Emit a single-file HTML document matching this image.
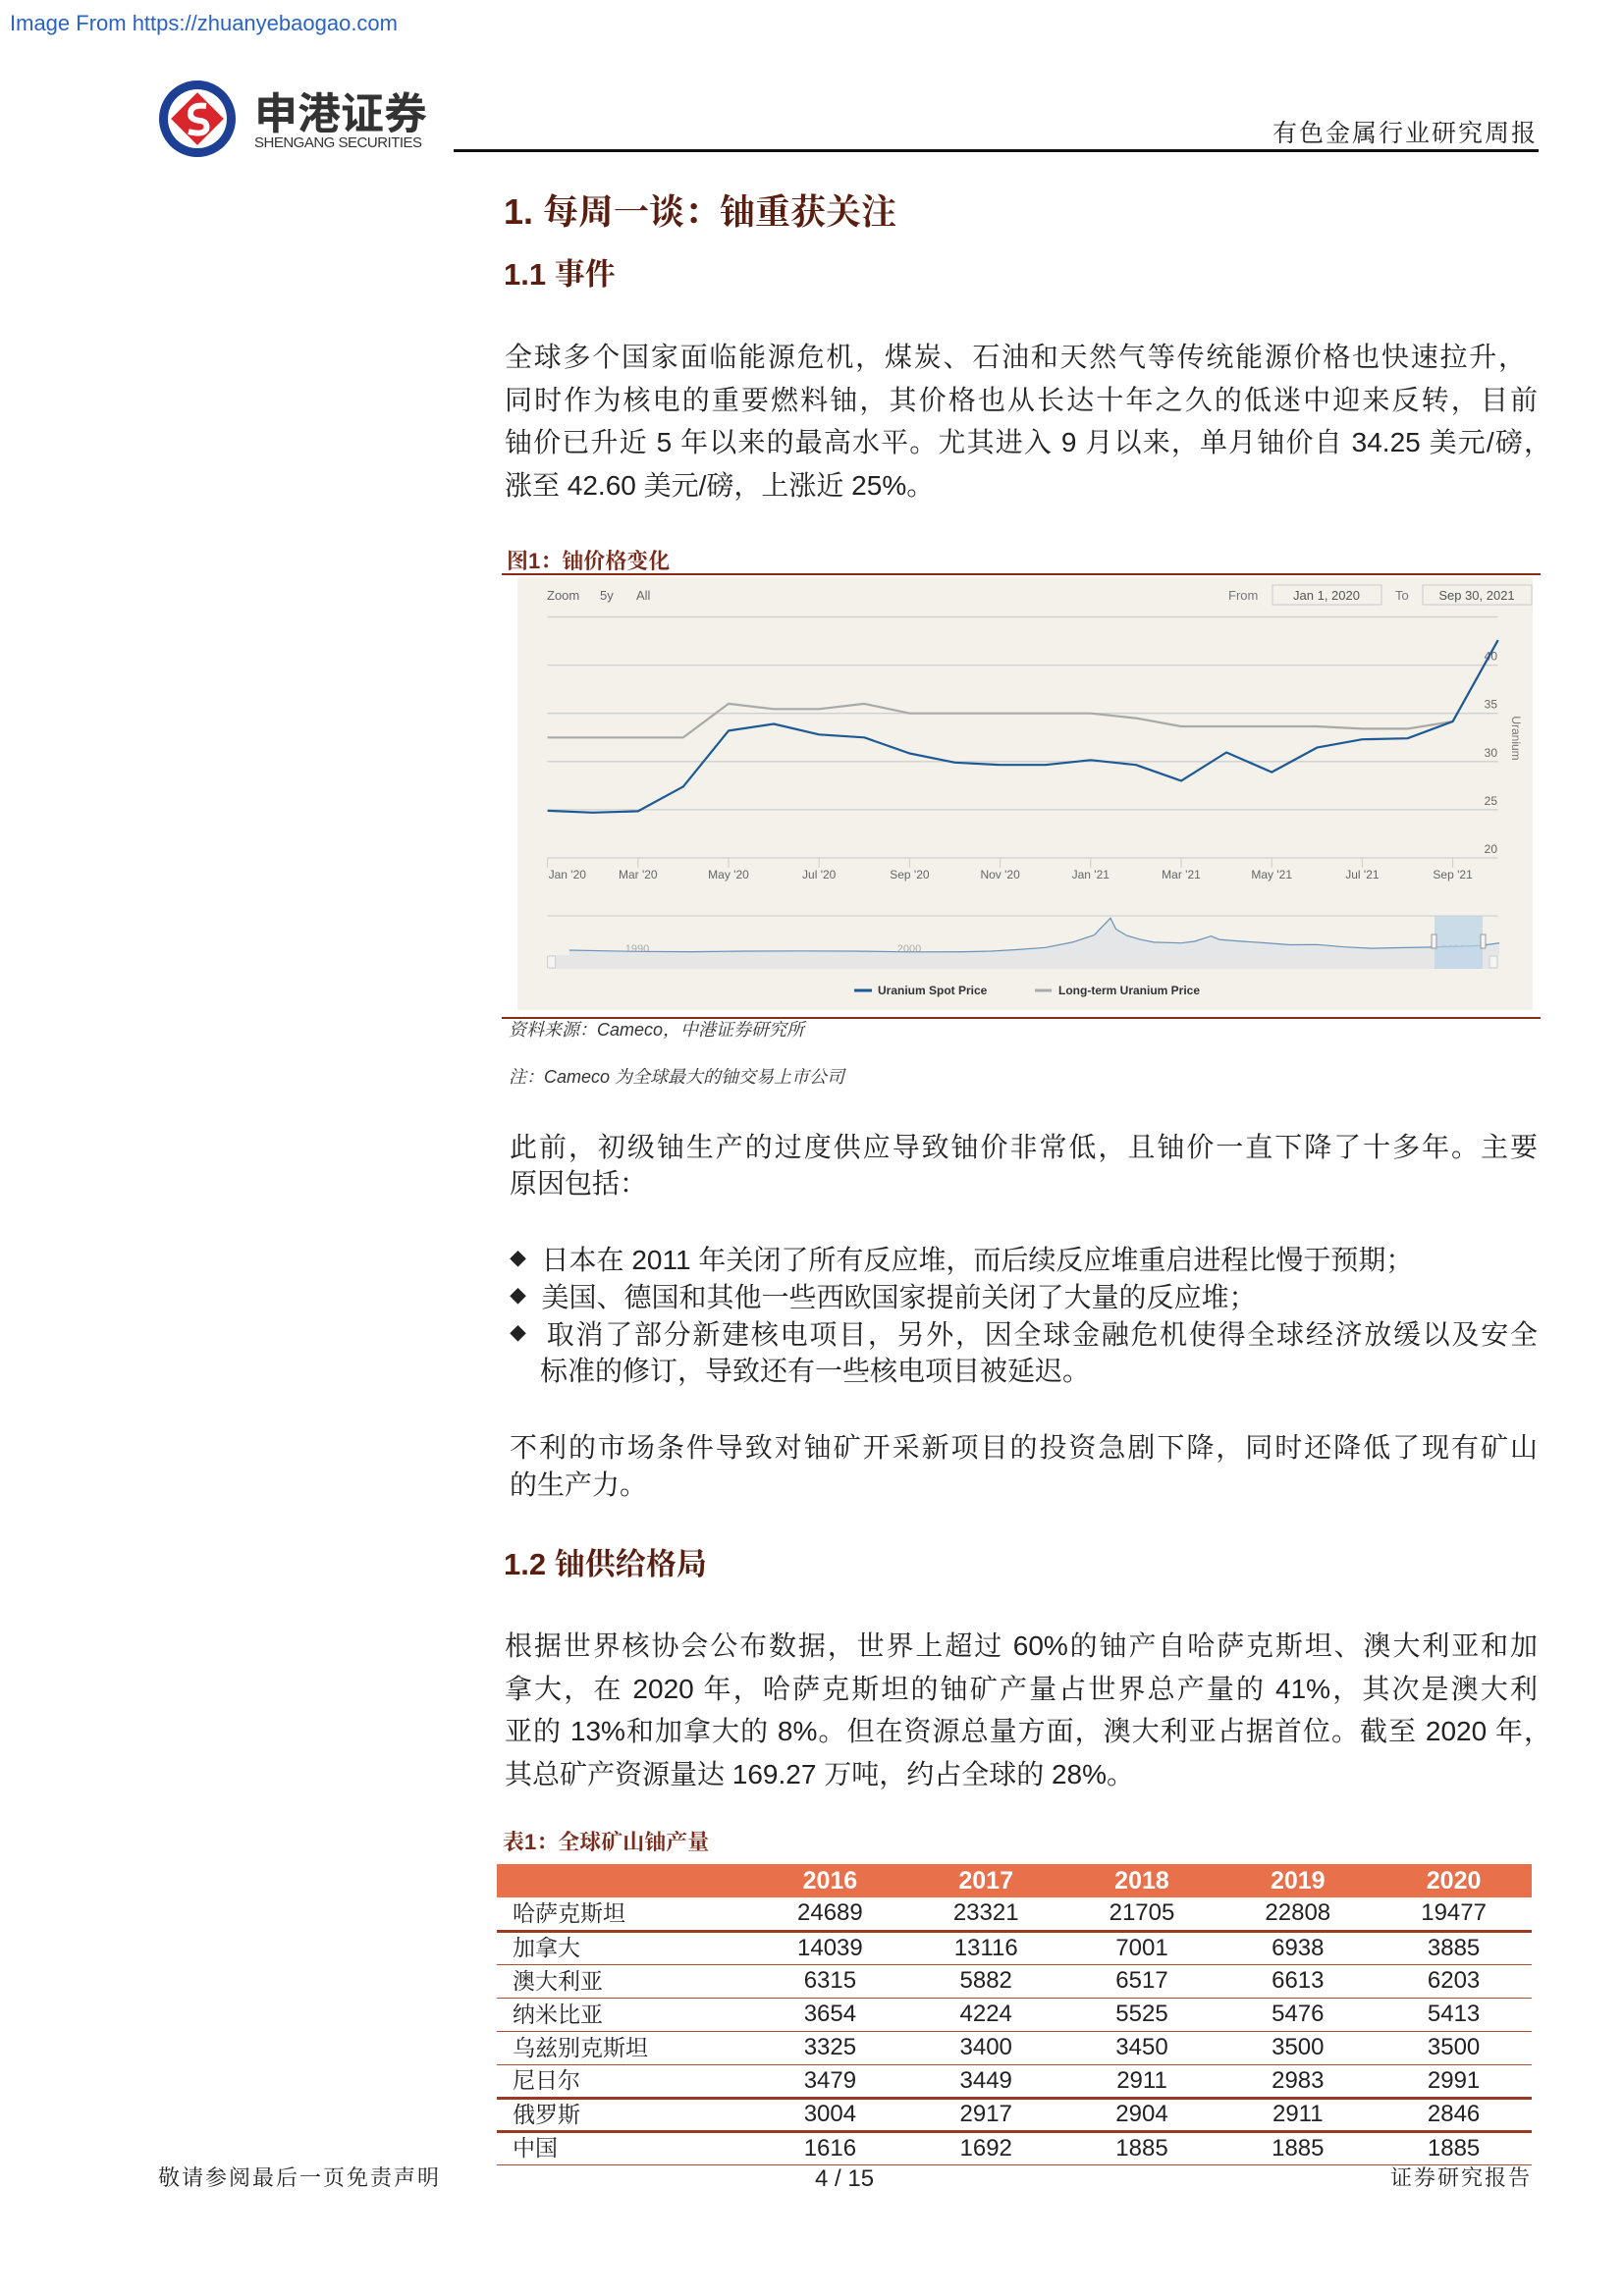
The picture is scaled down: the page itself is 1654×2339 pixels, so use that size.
<!DOCTYPE html>
<html><head><meta charset="utf-8">
<style>
*{margin:0;padding:0;box-sizing:border-box}
body{width:1654px;height:2339px;background:#fff;position:relative;overflow:hidden;font-family:"Liberation Sans","Noto Serif CJK SC",serif;color:#222}
.a{position:absolute;white-space:nowrap;line-height:1}
.p{font-size:28px;font-family:"Liberation Sans","Noto Serif CJK SC",serif}
.j{text-align:justify;text-align-last:justify;white-space:normal}
.h{font-family:"Liberation Sans","Noto Serif CJK SC",serif;font-weight:bold;color:#5a1e10}
.cap{font-size:22px;font-weight:bold;color:#7a2a1a;font-family:"Liberation Sans","Noto Serif CJK SC",serif}
.src{font-size:18px;font-style:italic;color:#333}
.b{font-size:17px;position:relative;top:-4px}
table{position:absolute;left:506px;top:1899px;width:1054px;border-collapse:collapse;font-size:24px}
td,th{height:34px;padding:0;text-align:center;line-height:1}
th{background:#e8704a;color:#fff;font-weight:bold;font-size:25px}
td.n{text-align:left;padding-left:16px;font-family:"Liberation Sans","Noto Serif CJK SC",serif;font-size:23px}
tr.r td{border-bottom:1.5px solid #b04a30}
tr.t td{border-bottom:3px solid #9a3a20}
</style></head><body>
<div class="a" style="left:10px;top:13px;font-size:22px;color:#2a62c8">Image From https://zhuanyebaogao.com</div>

<svg class="a" style="left:160px;top:80px" width="82" height="82" viewBox="0 0 82 82">
<circle cx="41" cy="41" r="39" fill="#1d3f94"/><circle cx="41" cy="41" r="30" fill="#fff"/>
<rect x="22" y="22" width="38" height="38" fill="#d9252b" transform="rotate(45 41 41)"/>
<path d="M50 28 Q34 26 34 36 Q34 42 44 43 Q52 44 50 52 Q46 58 32 54" stroke="#fff" stroke-width="6" fill="none"/>
</svg>
<div class="a" style="left:259px;top:90px;font-size:44px;font-weight:bold;color:#333;font-family:'Noto Sans CJK SC',sans-serif">申港证券</div>
<div class="a" style="left:259px;top:138px;font-size:15px;color:#333;letter-spacing:-0.5px">SHENGANG SECURITIES</div>
<div class="a" style="right:88px;top:124px;font-size:25px;letter-spacing:2px">有色金属行业研究周报</div>
<div class="a" style="left:462px;top:152px;width:1105px;height:3px;background:#111"></div>

<div class="a h" style="left:513px;top:198px;font-size:36px">1. 每周一谈：铀重获关注</div>
<div class="a h" style="left:513px;top:264px;font-size:31px">1.1 事件</div>

<div class="a p j" style="left:514px;top:350px;width:1040px">全球多个国家面临能源危机，煤炭、石油和天然气等传统能源价格也快速拉升，</div>
<div class="a p j" style="left:514px;top:394px;width:1052px">同时作为核电的重要燃料铀，其价格也从长达十年之久的低迷中迎来反转，目前</div>
<div class="a p j" style="left:514px;top:437px;width:1066px">铀价已升近 5 年以来的最高水平。尤其进入 9 月以来，单月铀价自 34.25 美元/磅，</div>
<div class="a p" style="left:514px;top:481px">涨至 42.60 美元/磅，上涨近 25%。</div>

<div class="a cap" style="left:516px;top:561px">图1：铀价格变化</div>

<svg class="a" id="chart" style="left:0;top:0" width="1654" height="1045" viewBox="0 0 1654 1045"></svg>

<div class="a src" style="left:518px;top:1040px">资料来源：Cameco，中港证券研究所</div>
<div class="a src" style="left:518px;top:1088px">注：Cameco 为全球最大的铀交易上市公司</div>

<div class="a p j" style="left:519px;top:1155px;width:1047px">此前，初级铀生产的过度供应导致铀价非常低，且铀价一直下降了十多年。主要</div>
<div class="a p" style="left:519px;top:1192px">原因包括：</div>

<div class="a p" style="left:519px;top:1270px"><span class="b">◆</span>&nbsp;&nbsp;日本在 2011 年关闭了所有反应堆，而后续反应堆重启进程比慢于预期；</div>
<div class="a p" style="left:519px;top:1308px"><span class="b">◆</span>&nbsp;&nbsp;美国、德国和其他一些西欧国家提前关闭了大量的反应堆；</div>
<div class="a p j" style="left:519px;top:1346px;width:1047px"><span class="b">◆</span>&nbsp;&nbsp;取消了部分新建核电项目，另外，因全球金融危机使得全球经济放缓以及安全</div>
<div class="a p" style="left:550px;top:1383px">标准的修订，导致还有一些核电项目被延迟。</div>

<div class="a p j" style="left:519px;top:1461px;width:1047px">不利的市场条件导致对铀矿开采新项目的投资急剧下降，同时还降低了现有矿山</div>
<div class="a p" style="left:519px;top:1499px">的生产力。</div>

<div class="a h" style="left:513px;top:1578px;font-size:31px">1.2 铀供给格局</div>

<div class="a p j" style="left:514px;top:1663px;width:1052px">根据世界核协会公布数据，世界上超过 60%的铀产自哈萨克斯坦、澳大利亚和加</div>
<div class="a p j" style="left:514px;top:1707px;width:1052px">拿大，在 2020 年，哈萨克斯坦的铀矿产量占世界总产量的 41%，其次是澳大利</div>
<div class="a p j" style="left:514px;top:1750px;width:1066px">亚的 13%和加拿大的 8%。但在资源总量方面，澳大利亚占据首位。截至 2020 年，</div>
<div class="a p" style="left:514px;top:1794px">其总矿产资源量达 169.27 万吨，约占全球的 28%。</div>

<div class="a cap" style="left:512px;top:1866px">表1：全球矿山铀产量</div>
<table>
<tr><th style="width:260px"></th><th>2016</th><th>2017</th><th>2018</th><th>2019</th><th>2020</th></tr>
<tr class="t"><td class="n">哈萨克斯坦</td><td>24689</td><td>23321</td><td>21705</td><td>22808</td><td>19477</td></tr>
<tr class="r"><td class="n">加拿大</td><td>14039</td><td>13116</td><td>7001</td><td>6938</td><td>3885</td></tr>
<tr class="r"><td class="n">澳大利亚</td><td>6315</td><td>5882</td><td>6517</td><td>6613</td><td>6203</td></tr>
<tr class="r"><td class="n">纳米比亚</td><td>3654</td><td>4224</td><td>5525</td><td>5476</td><td>5413</td></tr>
<tr class="r"><td class="n">乌兹别克斯坦</td><td>3325</td><td>3400</td><td>3450</td><td>3500</td><td>3500</td></tr>
<tr class="t"><td class="n">尼日尔</td><td>3479</td><td>3449</td><td>2911</td><td>2983</td><td>2991</td></tr>
<tr class="t"><td class="n">俄罗斯</td><td>3004</td><td>2917</td><td>2904</td><td>2911</td><td>2846</td></tr>
<tr class="r"><td class="n">中国</td><td>1616</td><td>1692</td><td>1885</td><td>1885</td><td>1885</td></tr>
</table>

<div class="a" style="left:161px;top:2208px;font-size:22px;letter-spacing:2px">敬请参阅最后一页免责声明</div>
<div class="a" style="left:830px;top:2208px;font-size:24px">4 / 15</div>
<div class="a" style="right:94px;top:2208px;font-size:22px;letter-spacing:2px">证券研究报告</div>

<script>
const monthLabels = ["Jan '20","Mar '20","May '20","Jul '20","Sep '20","Nov '20","Jan '21","Mar '21","May '21","Jul '21","Sep '21"];
const yTicks = [20,25,30,35,40];
const spotPrice = [24.9,24.7,24.85,27.4,33.2,33.9,32.8,32.5,30.85,29.9,29.65,29.65,30.15,29.65,28.0,30.95,28.9,31.45,32.3,32.4,34.15,42.6];
const longTermPrice = [32.5,32.5,32.5,32.5,36.0,35.45,35.45,36.0,35.0,35.0,35.0,35.0,35.0,34.5,33.65,33.65,33.65,33.65,33.4,33.4,34.15,42.6];
const navYears = [1987.5,1989,1990,1992,1994,1996,1998,2000,2002,2003,2004,2005,2006,2006.8,2007.4,2007.6,2008,2008.5,2009,2010,2010.5,2011.1,2011.4,2012,2013,2014,2015,2016,2017,2018,2019,2020,2021,2021.7];
const navValues = [15,12,10,9,11,12,11,8,9,11,17,25,45,72,136,95,70,55,45,42,48,68,55,50,43,35,36,27,22,24,26,28,32,42];
const navLabels = [1990,2000,2010,2020];

const svg=document.getElementById('chart');
const NS='http://www.w3.org/2000/svg';
function mk(tag,attrs,parent){const e=document.createElementNS(NS,tag);for(const k in attrs)e.setAttribute(k,attrs[k]);(parent||svg).appendChild(e);return e;}
const X0=557.6, MW=46.1, Y20=874, UPX=9.82;
function xm(m){return X0+m*MW;}
function yv(v){return Y20-(v-20)*UPX;}
function xy(y){return 649+(y-1990)*27.7;}
function ny(v){return 972-v*0.27;}

let e;
e=mk('rect',{x:511,y:584,width:1058,height:450,fill:'#fff'});


e=mk('rect',{x:527,y:588,width:1034,height:441,fill:'#f4f1eb'});


e=mk('line',{x1:511,y1:585,x2:1569,y2:585,stroke:'#8a2a1a','stroke-width':2});


e=mk('line',{x1:511,y1:1037,x2:1569,y2:1037,stroke:'#8a2a1a','stroke-width':2});



e=mk('text',{x:557,y:611,'font-size':13,fill:'#666','font-family':'Liberation Sans'});e.textContent='Zoom';


e=mk('text',{x:611,y:611,'font-size':13,fill:'#666','font-family':'Liberation Sans'});e.textContent='5y';


e=mk('text',{x:648,y:611,'font-size':13,fill:'#666','font-family':'Liberation Sans'});e.textContent='All';


e=mk('text',{x:1251,y:611,'font-size':13,fill:'#777','font-family':'Liberation Sans'});e.textContent='From';


e=mk('rect',{x:1296,y:596,width:111,height:20,fill:'#f4f1eb',stroke:'#ccc'});


e=mk('text',{x:1351,y:611,'font-size':13,fill:'#555','text-anchor':'middle','font-family':'Liberation Sans'});e.textContent='Jan 1, 2020';


e=mk('text',{x:1421,y:611,'font-size':13,fill:'#777','font-family':'Liberation Sans'});e.textContent='To';


e=mk('rect',{x:1449,y:596,width:111,height:20,fill:'#f4f1eb',stroke:'#ccc'});


e=mk('text',{x:1504,y:611,'font-size':13,fill:'#555','text-anchor':'middle','font-family':'Liberation Sans'});e.textContent='Sep 30, 2021';



for(let v=20;v<=45;v+=5){
  e=mk('line',{x1:X0,x2:1525.6,y1:yv(v),y2:yv(v),stroke:'#cfcfcf','stroke-width':1.3});
  
  
}
yTicks.forEach(v=>{
  e=mk('text',{x:1525,y:yv(v)-5,'font-size':12,fill:'#666','text-anchor':'end','font-family':'Liberation Sans'});e.textContent=v;
  
  
});
e=mk('text',{x:1540,y:752,'font-size':12,fill:'#777','text-anchor':'middle','font-family':'Liberation Sans',transform:'rotate(90 1540 752)'});e.textContent='Uranium';



monthLabels.forEach((lab,i)=>{
  const x=xm(i*2);
  e=mk('line',{x1:x,x2:x,y1:Y20,y2:Y20+10,stroke:'#ccc'});
  
  
  e=mk('text',{x:i===0?x+1:x,y:895,'font-size':12,fill:'#666','text-anchor':i===0?'start':'middle','font-family':'Liberation Sans'});e.textContent=lab;
  
  
});

function series(arr,color,name){
  const d=arr.map((v,i)=>(i?'L':'M')+xm(i).toFixed(1)+' '+yv(v).toFixed(1)).join(' ');
  e=mk('path',{d:d,fill:'none',stroke:color,'stroke-width':2.2,'stroke-linejoin':'round'});
  
  
}
series(longTermPrice,'#a9a9a9','long-term-price-line');
series(spotPrice,'#1d5a95','spot-price-line');

e=mk('line',{x1:X0,x2:1525.6,y1:933,y2:933,stroke:'#ccc'});


e=mk('rect',{x:X0,y:973,width:968,height:14,fill:'#e6e6e6'});


navLabels.forEach(y=>{
  e=mk('text',{x:xy(y),y:970,'font-size':11,fill:'#aaa','text-anchor':'middle','font-family':'Liberation Sans'});e.textContent=y;
  
  
});
const nd=navYears.map((y,i)=>(i?'L':'M')+xy(y).toFixed(1)+' '+ny(navValues[i]).toFixed(1)).join(' ');
e=mk('path',{d:nd+` L${xy(navYears[navYears.length-1]).toFixed(1)} 973 L${xy(navYears[0]).toFixed(1)} 973 Z`,fill:'#e4e6e8',stroke:'none'});


e=mk('path',{d:nd,fill:'none',stroke:'#6a93b8','stroke-width':1.2});


e=mk('rect',{x:1461,y:933,width:49,height:54,fill:'#b9d3e8','fill-opacity':0.7});


e=mk('rect',{x:1458,y:952,width:5,height:14,fill:'#f4f4f4',stroke:'#999'});


e=mk('rect',{x:1508,y:952,width:5,height:14,fill:'#f4f4f4',stroke:'#999'});


e=mk('rect',{x:557.6,y:974,width:8,height:12,fill:'#f4f4f4',stroke:'#ccc'});


e=mk('rect',{x:1517,y:974,width:8,height:12,fill:'#f4f4f4',stroke:'#ccc'});



e=mk('line',{x1:870,x2:888,y1:1009,y2:1009,stroke:'#1d5a95','stroke-width':3});


e=mk('text',{x:894,y:1013,'font-size':12,'font-weight':'bold',fill:'#333','font-family':'Liberation Sans'});e.textContent='Uranium Spot Price';


e=mk('line',{x1:1054,x2:1071,y1:1009,y2:1009,stroke:'#aaa','stroke-width':3});


e=mk('text',{x:1078,y:1013,'font-size':12,'font-weight':'bold',fill:'#333','font-family':'Liberation Sans'});e.textContent='Long-term Uranium Price';


</script>
</body></html>
